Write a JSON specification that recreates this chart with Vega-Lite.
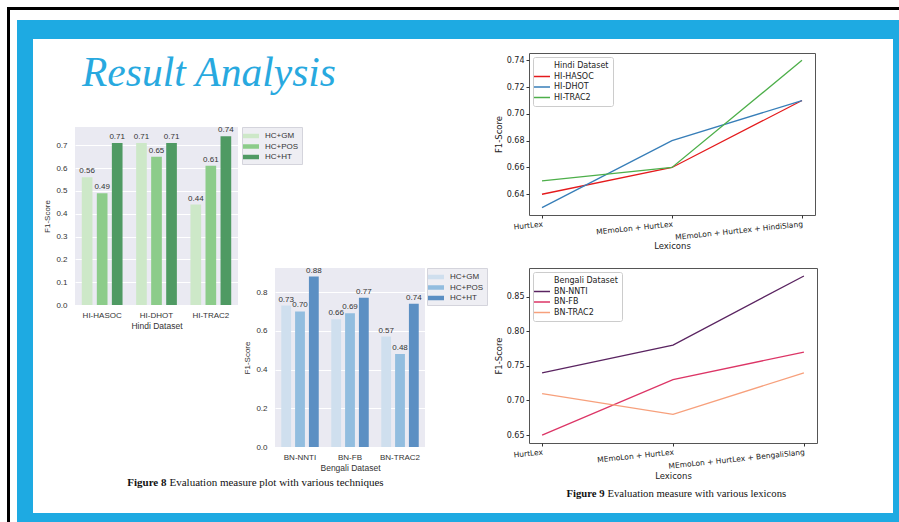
{
  "$schema": "https://vega.github.io/schema/vega-lite/v6.json",
  "background": "white",
  "padding": {"left": 7, "top": 7, "right": 0, "bottom": 0},
  "config": {"view": {"stroke": null}},
  "bounds": "flush",
  "spacing": 13,
  "resolve": {"scale": {"color": "independent", "xOffset": "independent"}, "legend": {"color": "independent"}},
  "vconcat": [
    {
      "bounds": "flush", "spacing": 0,
      "hconcat": [
        {"vconcat": [{"width": 892, "height": 3, "view": {"fill": "#000000", "stroke": null}, "data": {"values": []}, "mark": "point", "encoding": {}}]},
        {"width": 3, "height": 515, "view": {"fill": "#000000", "stroke": null}, "data": {"values": []}, "mark": "point", "encoding": {}}
      ]
    },
    {
      "bounds": "flush", "spacing": 10,
      "resolve": {"scale": {"color": "independent", "xOffset": "independent"}, "legend": {"color": "independent"}},
      "hconcat": [
        {"vconcat": [{"width": 1, "height": 1, "data": {"values": []}, "mark": "point", "encoding": {}}]},
        {
          "bounds": "flush", "spacing": 19,
          "resolve": {"scale": {"color": "independent", "xOffset": "independent"}, "legend": {"color": "independent"}},
          "vconcat": [
            {"vconcat": [{"width": 882, "height": 502, "view": {"fill": "#1eaae2", "stroke": null}, "data": {"values": []}, "mark": "point", "encoding": {}}]},
            {
              "bounds": "flush", "spacing": 16,
              "resolve": {"scale": {"color": "independent", "xOffset": "independent"}, "legend": {"color": "independent"}},
              "hconcat": [
                {"vconcat": [{"width": 1, "height": 1, "data": {"values": []}, "mark": "point", "encoding": {}}]},
                {
                  "bounds": "flush", "spacing": 14,
                  "resolve": {"scale": {"color": "independent", "xOffset": "independent"}, "legend": {"color": "independent"}},
                  "vconcat": [
                    {"vconcat": [{"width": 860, "height": 474, "view": {"fill": "#ffffff", "stroke": null}, "data": {"values": []}, "mark": "point", "encoding": {}}]},
                    {
                      "bounds": "flush", "spacing": 42,
                      "resolve": {"scale": {"color": "independent", "xOffset": "independent"}, "legend": {"color": "independent"}},
                      "hconcat": [
                        {"vconcat": [{"width": 1, "height": 1, "data": {"values": []}, "mark": "point", "encoding": {}}]},
                        {
                          "bounds": "flush",
                          "spacing": 454,
                          "resolve": {"scale": {"color": "independent", "xOffset": "independent"}, "legend": {"color": "independent"}},
                          "hconcat": [
                            {
                              "bounds": "flush",
                              "spacing": 32,
                              "resolve": {"scale": {"color": "independent", "xOffset": "independent"}, "legend": {"color": "independent"}},
                              "vconcat": [
                                {
                                  "width": 268, "height": 42,
                                  "data": {"values": [{"t": "Result Analysis"}]},
                                  "mark": {"type": "text", "font": "Liberation Serif", "fontStyle": "italic", "fontSize": 41.5, "color": "#28a9df", "baseline": "middle", "align": "center"},
                                  "encoding": {"text": {"field": "t"}}
                                },
                                {
                                  "bounds": "flush",
                                  "spacing": 200,
                                  "resolve": {"scale": {"color": "independent", "xOffset": "independent"}, "legend": {"color": "independent"}},
                                  "hconcat": [
                                    {
                                      "bounds": "flush",
                                      "spacing": 177.5,
                                      "resolve": {"scale": {"color": "independent", "xOffset": "independent"}, "legend": {"color": "independent"}},
                                      "vconcat": [
                                        {
                                          "width": 163, "height": 178,
                                          "view": {"fill": "#eaeaf2", "stroke": null},
                                          "data": {"values": [
                                            {"ds": "HI-HASOC", "tech": "HC+GM", "f1": 0.56},
                                            {"ds": "HI-HASOC", "tech": "HC+POS", "f1": 0.49},
                                            {"ds": "HI-HASOC", "tech": "HC+HT", "f1": 0.71},
                                            {"ds": "HI-DHOT", "tech": "HC+GM", "f1": 0.71},
                                            {"ds": "HI-DHOT", "tech": "HC+POS", "f1": 0.65},
                                            {"ds": "HI-DHOT", "tech": "HC+HT", "f1": 0.71},
                                            {"ds": "HI-TRAC2", "tech": "HC+GM", "f1": 0.44},
                                            {"ds": "HI-TRAC2", "tech": "HC+POS", "f1": 0.61},
                                            {"ds": "HI-TRAC2", "tech": "HC+HT", "f1": 0.74}
                                          ]},
                                          "encoding": {
                                            "x": {"field": "ds", "type": "nominal", "sort": ["HI-HASOC", "HI-DHOT", "HI-TRAC2"],
                                              "scale": {"paddingInner": 0.25, "paddingOuter": 0.125},
                                              "axis": {"labelAngle": 0, "ticks": false, "domain": false, "labelPadding": 6, "labelFont": "Liberation Sans", "labelFontSize": 8, "labelColor": "#333", "title": "Hindi Dataset", "titleFont": "Liberation Sans", "titleFontSize": 8.5, "titleFontWeight": "normal", "titleColor": "#333", "titlePadding": 2}},
                                            "xOffset": {"field": "tech", "type": "nominal", "sort": ["HC+GM", "HC+POS", "HC+HT"], "scale": {"paddingInner": 0.29, "paddingOuter": 0}},
                                            "y": {"field": "f1", "type": "quantitative", "scale": {"domain": [0, 0.78], "nice": false},
                                              "axis": {"values": [0, 0.1, 0.2, 0.3, 0.4, 0.5, 0.6, 0.7], "format": ".1f", "ticks": false, "domain": false, "grid": true, "gridColor": "#ffffff", "gridWidth": 1, "labelFont": "Liberation Sans", "labelFontSize": 8, "labelColor": "#333", "labelPadding": 8, "title": "F1-Score", "titleFont": "Liberation Sans", "titleFontSize": 8, "titleFontWeight": "normal", "titleColor": "#333", "titlePadding": 4}}
                                          },
                                          "layer": [
                                            {
                                              "mark": {"type": "bar"},
                                              "encoding": {
                                                "color": {"field": "tech", "type": "nominal", "scale": {"domain": ["HC+GM", "HC+POS", "HC+HT"], "range": ["#cde8c8", "#8ccc8a", "#4f9a63"]},
                                                  "legend": {"title": null, "orient": "right", "offset": 4, "symbolType": "M-1.6,-0.45H1.6V0.45H-1.6Z", "symbolSize": 100, "labelFont": "Liberation Sans", "labelFontSize": 8, "labelColor": "#333", "labelOffset": 8, "fillColor": "#eeeef3", "strokeColor": "#d4d4dc", "padding": 3, "rowPadding": 0.5}}
                                              }
                                            },
                                            {
                                              "mark": {"type": "text", "baseline": "bottom", "dy": -2, "font": "Liberation Sans", "fontSize": 8, "color": "#333"},
                                              "encoding": {"text": {"field": "f1", "type": "quantitative", "format": ".2f"}}
                                            }
                                          ]
                                        },
                                        {
                                          "width": 186, "height": 1,
                                          "data": {"values": [{"a": "Figure 8", "b": "Evaluation measure plot with various techniques"}]},
                                          "layer": [
                                            {"mark": {"type": "text", "font": "Liberation Serif", "fontSize": 11, "fontWeight": "bold", "align": "right", "baseline": "middle", "dx": -1.5, "color": "#111"}, "encoding": {"text": {"field": "a"}}},
                                            {"mark": {"type": "text", "font": "Liberation Serif", "fontSize": 11, "align": "left", "baseline": "middle", "dx": 1.5, "color": "#111"}, "encoding": {"text": {"field": "b"}}}
                                          ]
                                        }
                                      ]
                                    },
                                    {
                                      "bounds": "flush",
                                      "spacing": 0,
                                      "resolve": {"scale": {"color": "independent", "xOffset": "independent"}, "legend": {"color": "independent"}},
                                      "vconcat": [
                                        {"width": 150, "height": 141, "data": {"values": []}, "mark": "point", "encoding": {}},
                                        {
                                          "width": 150, "height": 179,
                                          "view": {"fill": "#eaeaf2", "stroke": null},
                                          "data": {"values": [
                                            {"ds": "BN-NNTI", "tech": "HC+GM", "f1": 0.73},
                                            {"ds": "BN-NNTI", "tech": "HC+POS", "f1": 0.70},
                                            {"ds": "BN-NNTI", "tech": "HC+HT", "f1": 0.88},
                                            {"ds": "BN-FB", "tech": "HC+GM", "f1": 0.66},
                                            {"ds": "BN-FB", "tech": "HC+POS", "f1": 0.69},
                                            {"ds": "BN-FB", "tech": "HC+HT", "f1": 0.77},
                                            {"ds": "BN-TRAC2", "tech": "HC+GM", "f1": 0.57},
                                            {"ds": "BN-TRAC2", "tech": "HC+POS", "f1": 0.48},
                                            {"ds": "BN-TRAC2", "tech": "HC+HT", "f1": 0.74}
                                          ]},
                                          "encoding": {
                                            "x": {"field": "ds", "type": "nominal", "sort": ["BN-NNTI", "BN-FB", "BN-TRAC2"],
                                              "scale": {"paddingInner": 0.25, "paddingOuter": 0.125},
                                              "axis": {"labelAngle": 0, "ticks": false, "domain": false, "labelPadding": 6, "labelFont": "Liberation Sans", "labelFontSize": 8, "labelColor": "#333", "title": "Bengali Dataset", "titleFont": "Liberation Sans", "titleFontSize": 8.5, "titleFontWeight": "normal", "titleColor": "#333", "titlePadding": 2}},
                                            "xOffset": {"field": "tech", "type": "nominal", "sort": ["HC+GM", "HC+POS", "HC+HT"], "scale": {"paddingInner": 0.29, "paddingOuter": 0}},
                                            "y": {"field": "f1", "type": "quantitative", "scale": {"domain": [0, 0.924], "nice": false},
                                              "axis": {"values": [0, 0.2, 0.4, 0.6, 0.8], "format": ".1f", "ticks": false, "domain": false, "grid": true, "gridColor": "#ffffff", "gridWidth": 1, "labelFont": "Liberation Sans", "labelFontSize": 8, "labelColor": "#333", "labelPadding": 8, "title": "F1-Score", "titleFont": "Liberation Sans", "titleFontSize": 8, "titleFontWeight": "normal", "titleColor": "#333", "titlePadding": 4}}
                                          },
                                          "layer": [
                                            {
                                              "mark": {"type": "bar"},
                                              "encoding": {
                                                "color": {"field": "tech", "type": "nominal", "scale": {"domain": ["HC+GM", "HC+POS", "HC+HT"], "range": ["#cfdfee", "#92bddf", "#5b8fc3"]},
                                                  "legend": {"title": null, "orient": "right", "offset": 2, "symbolType": "M-1.6,-0.45H1.6V0.45H-1.6Z", "symbolSize": 100, "labelFont": "Liberation Sans", "labelFontSize": 8, "labelColor": "#333", "labelOffset": 8, "fillColor": "#eeeef3", "strokeColor": "#d4d4dc", "padding": 3, "rowPadding": 0.5}}
                                              }
                                            },
                                            {
                                              "mark": {"type": "text", "baseline": "bottom", "dy": -2, "font": "Liberation Sans", "fontSize": 8, "color": "#333"},
                                              "encoding": {"text": {"field": "f1", "type": "quantitative", "format": ".2f"}}
                                            }
                                          ]
                                        }
                                      ]
                                    }
                                  ]
                                }
                              ]
                            },
                            {
                              "bounds": "flush",
                              "spacing": 53,
                              "resolve": {"scale": {"color": "independent", "xOffset": "independent"}, "legend": {"color": "independent"}},
                              "vconcat": [
                                {
                                  "width": 286, "height": 162,
                                  "view": {"stroke": "#555", "strokeWidth": 1, "fill": null},
                                  "data": {"values": [
                                    {"ds": "HI-HASOC", "lex": "HurtLex", "f1": 0.64},
                                    {"ds": "HI-HASOC", "lex": "MEmoLon + HurtLex", "f1": 0.66},
                                    {"ds": "HI-HASOC", "lex": "MEmoLon + HurtLex + HindiSlang", "f1": 0.71},
                                    {"ds": "HI-DHOT", "lex": "HurtLex", "f1": 0.63},
                                    {"ds": "HI-DHOT", "lex": "MEmoLon + HurtLex", "f1": 0.68},
                                    {"ds": "HI-DHOT", "lex": "MEmoLon + HurtLex + HindiSlang", "f1": 0.71},
                                    {"ds": "HI-TRAC2", "lex": "HurtLex", "f1": 0.65},
                                    {"ds": "HI-TRAC2", "lex": "MEmoLon + HurtLex", "f1": 0.66},
                                    {"ds": "HI-TRAC2", "lex": "MEmoLon + HurtLex + HindiSlang", "f1": 0.74}
                                  ]},
                                  "mark": {"type": "line", "strokeWidth": 1.3},
                                  "encoding": {
                                    "x": {"field": "lex", "type": "ordinal", "sort": ["HurtLex", "MEmoLon + HurtLex", "MEmoLon + HurtLex + HindiSlang"],
                                      "scale": {"type": "point", "padding": 0.1},
                                      "axis": {"labelAngle": -6, "labelAlign": "right", "labelBaseline": "top", "ticks": true, "tickSize": 3, "tickColor": "#333", "domain": false, "grid": false, "labelPadding": 2, "labelFont": "DejaVu Sans", "labelFontSize": 7.5, "labelColor": "#222", "labelOverlap": false, "title": "Lexicons", "titleFont": "DejaVu Sans", "titleFontSize": 8.5, "titleFontWeight": "normal", "titleColor": "#222", "titlePadding": 1}},
                                    "y": {"field": "f1", "type": "quantitative", "scale": {"domain": [0.6245, 0.7455], "nice": false, "zero": false},
                                      "axis": {"values": [0.64, 0.66, 0.68, 0.7, 0.72, 0.74], "format": ".2f", "ticks": true, "tickSize": 3, "tickColor": "#333", "domain": false, "grid": false, "labelPadding": 2, "labelFont": "DejaVu Sans", "labelFontSize": 8, "labelColor": "#222", "title": "F1-Score", "titleFont": "DejaVu Sans", "titleFontSize": 8.5, "titleFontWeight": "normal", "titleColor": "#222", "titlePadding": 3}},
                                    "color": {"field": "ds", "type": "nominal", "scale": {"domain": ["Hindi Dataset", "HI-HASOC", "HI-DHOT", "HI-TRAC2"], "range": ["rgba(0,0,0,0)", "#e41a1c", "#377eb8", "#4daf4a"]},
                                      "legend": {"title": null, "orient": "top-left", "offset": 4, "symbolType": "M-2,0H2", "symbolSize": 64, "symbolStrokeWidth": 1.5, "labelFont": "DejaVu Sans", "labelFontSize": 8, "labelColor": "#222", "labelOffset": 7, "fillColor": "#ffffff", "strokeColor": "#cccccc", "cornerRadius": 2, "padding": 4, "rowPadding": 1.5}}
                                  }
                                },
                                {
                                  "width": 288, "height": 175,
                                  "view": {"stroke": "#555", "strokeWidth": 1, "fill": null},
                                  "data": {"values": [
                                    {"ds": "BN-NNTI", "lex": "HurtLex", "f1": 0.74},
                                    {"ds": "BN-NNTI", "lex": "MEmoLon + HurtLex", "f1": 0.78},
                                    {"ds": "BN-NNTI", "lex": "MEmoLon + HurtLex + BengaliSlang", "f1": 0.88},
                                    {"ds": "BN-FB", "lex": "HurtLex", "f1": 0.65},
                                    {"ds": "BN-FB", "lex": "MEmoLon + HurtLex", "f1": 0.73},
                                    {"ds": "BN-FB", "lex": "MEmoLon + HurtLex + BengaliSlang", "f1": 0.77},
                                    {"ds": "BN-TRAC2", "lex": "HurtLex", "f1": 0.71},
                                    {"ds": "BN-TRAC2", "lex": "MEmoLon + HurtLex", "f1": 0.68},
                                    {"ds": "BN-TRAC2", "lex": "MEmoLon + HurtLex + BengaliSlang", "f1": 0.74}
                                  ]},
                                  "mark": {"type": "line", "strokeWidth": 1.3},
                                  "encoding": {
                                    "x": {"field": "lex", "type": "ordinal", "sort": ["HurtLex", "MEmoLon + HurtLex", "MEmoLon + HurtLex + BengaliSlang"],
                                      "scale": {"type": "point", "padding": 0.1},
                                      "axis": {"labelAngle": -6, "labelAlign": "right", "labelBaseline": "top", "ticks": true, "tickSize": 3, "tickColor": "#333", "domain": false, "grid": false, "labelPadding": 2, "labelFont": "DejaVu Sans", "labelFontSize": 7.5, "labelColor": "#222", "labelOverlap": false, "title": "Lexicons", "titleFont": "DejaVu Sans", "titleFontSize": 8.5, "titleFontWeight": "normal", "titleColor": "#222", "titlePadding": 2}},
                                    "y": {"field": "f1", "type": "quantitative", "scale": {"domain": [0.6385, 0.8915], "nice": false, "zero": false},
                                      "axis": {"values": [0.65, 0.7, 0.75, 0.8, 0.85], "format": ".2f", "ticks": true, "tickSize": 3, "tickColor": "#333", "domain": false, "grid": false, "labelPadding": 2, "labelFont": "DejaVu Sans", "labelFontSize": 8, "labelColor": "#222", "title": "F1-Score", "titleFont": "DejaVu Sans", "titleFontSize": 8.5, "titleFontWeight": "normal", "titleColor": "#222", "titlePadding": 3}},
                                    "color": {"field": "ds", "type": "nominal", "scale": {"domain": ["Bengali Dataset", "BN-NNTI", "BN-FB", "BN-TRAC2"], "range": ["rgba(0,0,0,0)", "#5a2461", "#dc3566", "#f7a07c"]},
                                      "legend": {"title": null, "orient": "top-left", "offset": 4, "symbolType": "M-2,0H2", "symbolSize": 64, "symbolStrokeWidth": 1.5, "labelFont": "DejaVu Sans", "labelFontSize": 8, "labelColor": "#222", "labelOffset": 7, "fillColor": "#ffffff", "strokeColor": "#cccccc", "cornerRadius": 2, "padding": 4, "rowPadding": 1.5}}
                                  }
                                },
                                {
                                  "width": 154, "height": 1,
                                  "data": {"values": [{"a": "Figure 9", "b": "Evaluation measure with various lexicons"}]},
                                  "layer": [
                                    {"mark": {"type": "text", "font": "Liberation Serif", "fontSize": 10.7, "fontWeight": "bold", "align": "right", "baseline": "alphabetic", "dx": -1.5, "color": "#111"}, "encoding": {"text": {"field": "a"}}},
                                    {"mark": {"type": "text", "font": "Liberation Serif", "fontSize": 10.7, "align": "left", "baseline": "alphabetic", "dx": 1.5, "color": "#111"}, "encoding": {"text": {"field": "b"}}}
                                  ]
                                }
                              ]
                            }
                          ]
                        }
                      ]
                    }
                  ]
                }
              ]
            }
          ]
        }
      ]
    }
  ]
}
